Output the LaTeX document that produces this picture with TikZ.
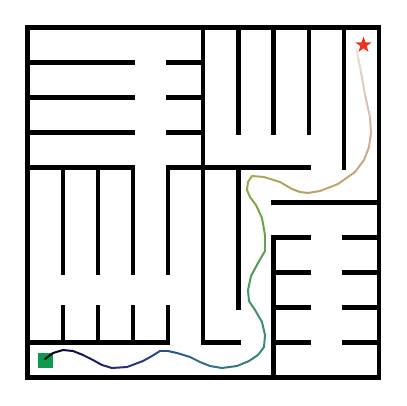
\documentclass[tikz,border=0pt]{standalone}
\usetikzlibrary{shapes.geometric}
\definecolor{c0}{HTML}{000000}
\definecolor{c1}{HTML}{171C76}
\definecolor{c2}{HTML}{28478A}
\definecolor{c3}{HTML}{2E6D8C}
\definecolor{c4}{HTML}{368B7A}
\definecolor{c5}{HTML}{459A5B}
\definecolor{c6}{HTML}{6FA648}
\definecolor{c7}{HTML}{A2AB55}
\definecolor{c8}{HTML}{BEA067}
\definecolor{c9}{HTML}{CFAE95}
\definecolor{c10}{HTML}{F2E4E4}
\definecolor{c11}{HTML}{F2E4E4}
\definecolor{startgreen}{HTML}{0E9A4E}
\definecolor{goalred}{HTML}{E8341C}
\begin{document}
\begin{tikzpicture}[x=1pt,y=-1pt,
  wall/.style={line width=4.2pt, line cap=rect},
  trail/.style={line width=2pt, line cap=round, line join=round}]
\useasboundingbox (0,0) rectangle (407,405);
\begin{scope}[shift={(27.5,27.5)}, x=35.15pt, y=-35pt]
  \draw[wall] (0,0) rectangle (10,10);
  % horizontal walls
  \draw[wall] (0,1)--(3,1) (4,1)--(5,1)
              (0,2)--(3,2) (4,2)--(5,2)
              (0,3)--(3,3) (4,3)--(5,3)
              (0,4)--(3,4) (4,4)--(8,4)
              (7,5)--(10,5)
              (7,6)--(8,6) (9,6)--(10,6)
              (7,7)--(8,7) (9,7)--(10,7)
              (7,8)--(8,8) (9,8)--(10,8)
              (7,9)--(8,9) (9,9)--(10,9)
              (0,9)--(4,9) (5,9)--(6,9);
  % vertical walls
  \draw[wall] (5,0)--(5,9)
              (6,0)--(6,3) (7,0)--(7,3) (8,0)--(8,3)
              (9,0)--(9,4)
              (1,4)--(1,7) (2,4)--(2,7) (3,4)--(3,7) (4,4)--(4,7)
              (1,8)--(1,9) (2,8)--(2,9) (3,8)--(3,9) (4,8)--(4,9)
              (6,4)--(6,8)
              (7,6)--(7,10);
\end{scope}
\node[fill=startgreen, minimum size=15.5pt, inner sep=0pt] (start) at (45.5,360.5) {};
\foreach \x/\y [count=\k, remember=\x as \px (initially 45), remember=\y as \py (initially 359)] in
 {45/359, 53/353, 63/350, 73/351, 83/355, 93/360, 102/365, 112/368, 127/367, 143/361,
  152/356, 160/351, 168/351, 177/353, 190/357, 200/362, 210/366, 222/368, 237/366, 249/361,
  258/355, 264/347, 265/335, 262/322, 255/310, 249/301, 248/290, 251/276, 258/263, 265/251,
  265/235, 262/218, 256/205, 250/197, 247/190, 248/182, 252/176, 264/177, 280/182, 292/189,
  300/192, 308/193, 320/191, 338/184, 355/172, 364/160, 369/147, 371/133, 370/117, 365/95,
  361/72, 358/57, 357/50}{
  \ifnum\k>1
    \pgfmathsetmacro\tval{10*(\k-1.5)/52}
    \pgfmathtruncatemacro\lo{min(floor(\tval),9)}
    \pgfmathtruncatemacro\hi{\lo+1}
    \pgfmathtruncatemacro\pct{max(0,min(100,100-100*(\tval-\lo)))}
    \draw[trail, draw=c\lo!\pct!c\hi] (\px,\py) -- (\x,\y);
  \fi
}
\node[star, star points=5, star point ratio=2.5, fill=goalred, minimum size=17pt, inner sep=0pt] (goal) at (363.5,45) {};
\end{tikzpicture}
\end{document}
